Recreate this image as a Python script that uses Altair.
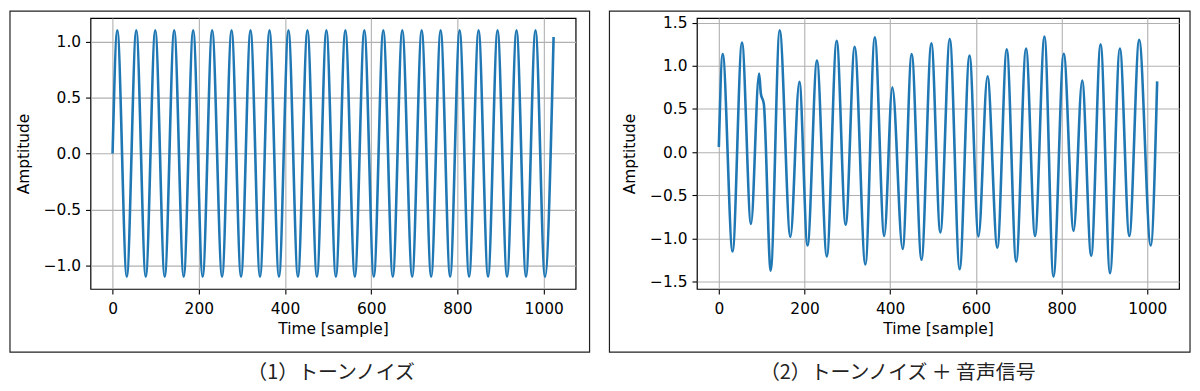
import altair as alt
import pandas as pd

# ---- data (extrema of each curve) ----
tone_t = [0, 11, 33, 55, 77, 99, 121, 143, 165, 187, 209, 231, 254, 276, 298,
          320, 342, 364, 386, 408, 430, 452, 474, 496, 518, 540, 562, 584, 606,
          628, 650, 672, 695, 717, 739, 761, 783, 805, 827, 849, 871, 893, 915,
          937, 959, 981, 1003, 1023]
tone_v = [0.0, 1.1, -1.1, 1.1, -1.1, 1.1, -1.1, 1.1, -1.1, 1.1, -1.1, 1.1, -1.1,
          1.1, -1.1, 1.1, -1.1, 1.1, -1.1, 1.1, -1.1, 1.1, -1.1, 1.1, -1.1, 1.1,
          -1.1, 1.1, -1.1, 1.1, -1.1, 1.1, -1.1, 1.1, -1.1, 1.1, -1.1, 1.1, -1.1,
          1.1, -1.1, 1.1, -1.1, 1.1, -1.1, 1.1, -1.1, 1.04]

mix_t = [0, 9, 32, 54, 75, 94, 98, 105, 121, 142, 167, 188, 207, 229, 252, 275,
         296, 317, 342, 364, 386, 405, 429, 450, 473, 496, 517, 539, 562, 585,
         606, 627, 650, 672, 694, 717, 738, 760, 781, 805, 828, 848, 869, 891,
         913, 936, 958, 981, 1008, 1023]
mix_v = [0.06, 1.135, -1.15, 1.27, -0.83, 0.91, 0.68, 0.56, -1.37, 1.41, -0.98,
         0.815, -1.08, 1.06, -1.205, 1.29, -0.84, 1.22, -1.30, 1.33, -0.97, 0.75,
         -1.12, 1.135, -1.245, 1.26, -0.93, 1.31, -1.355, 1.12, -0.975, 0.88,
         -1.105, 1.19, -1.265, 1.20, -0.97, 1.34, -1.44, 1.14, -0.91, 0.83, -1.20,
         1.25, -1.40, 1.20, -0.97, 1.30, -1.08, 0.82]

x_ticks = [0, 200, 400, 600, 800, 1000]
y_ticks_1 = [-1.0, -0.5, 0.0, 0.5, 1.0]
y_ticks_2 = [-1.5, -1.0, -0.5, 0.0, 0.5, 1.0, 1.5]
captions = ["（1）トーンノイズ", "（2）トーンノイズ ＋ 音声信号"]

X_DOMAIN = [-51.15, 1074.15]
LINE_COLOR = "#1f77b4"


def panel(ts, vs, yticks, ydom, caption, width, cap_x, box_left, box_right):
    df = pd.DataFrame({"t": ts, "v": vs})
    line = alt.Chart(df).mark_line(
        color=LINE_COLOR, strokeWidth=2.6, interpolate="monotone"
    ).encode(
        x=alt.X("t:Q", scale=alt.Scale(domain=X_DOMAIN, nice=False, zero=False),
                axis=alt.Axis(values=x_ticks, format="d", title="Time [sample]",
                              labelPadding=8, titlePadding=4)),
        y=alt.Y("v:Q", scale=alt.Scale(domain=ydom, nice=False, zero=False),
                axis=alt.Axis(values=yticks, format=".1f", title="Amptitude",
                              labelPadding=5, titlePadding=12)),
    )
    one = pd.DataFrame({"c": [caption]})
    box = alt.Chart(one).mark_rect(
        fill="white", fillOpacity=0, stroke="#222222", strokeWidth=1.2
    ).encode(
        x=alt.value(box_left), x2=alt.value(box_right),
        y=alt.value(-7), y2=alt.value(336),
    )
    cap = alt.Chart(one).mark_text(
        font="Noto Sans CJK JP", fontSize=20, color="#222222",
        align="center", baseline="middle"
    ).encode(x=alt.value(cap_x), y=alt.value(357), text="c:N")
    return alt.layer(box, line, cap).properties(width=width, height=272.5)


p1 = panel(tone_t, tone_v, y_ticks_1, [-1.21, 1.21], captions[0], 488, 242, -81, 502)
p2 = panel(mix_t, mix_v, y_ticks_2, [-1.5825, 1.5525], captions[1], 485, 202, -88, 496)

chart = alt.hconcat(p1, p2, spacing=16).properties(padding=0).configure_view(
    stroke="black", strokeWidth=1.2
).configure_axis(
    domain=False,
    grid=True, gridColor="#b0b0b0", gridWidth=1.1,
    ticks=True, tickColor="black", tickSize=5, tickWidth=1.1,
    labelFont="DejaVu Sans", labelFontSize=15.5, labelColor="black",
    titleFont="DejaVu Sans", titleFontSize=15.5, titleColor="black",
    titleFontWeight="normal",
)

chart.save("out.html", embed_options={"renderer": "svg", "actions": False})
